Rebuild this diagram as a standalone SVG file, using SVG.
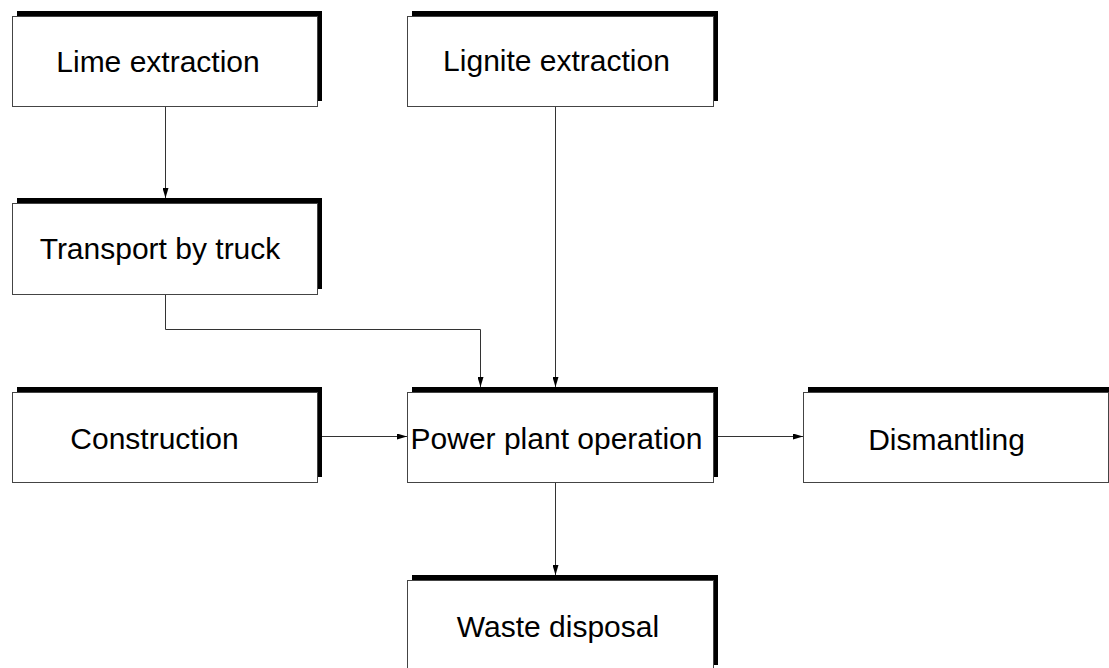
<svg xmlns="http://www.w3.org/2000/svg" width="1109" height="668" viewBox="0 0 1109 668">
  <style>
    .shadow { fill: #000; }
    .box { fill: #fff; stroke: #444; stroke-width: 1; }
    .label { font-family: "Liberation Sans", Arial, sans-serif; font-size: 30px; fill: #000; text-anchor: middle; }
    .edge { fill: none; stroke: #333; stroke-width: 1; }
  </style>
  <defs>
    <marker id="arrow" markerUnits="userSpaceOnUse" markerWidth="10" markerHeight="6" refX="10" refY="3" orient="auto">
      <path d="M0,0 L10,3 L0,6 z" fill="#000"/>
    </marker>
  </defs>
  <rect width="1109" height="668" fill="#fff"/>

  <g id="lime-extraction">
    <rect class="shadow" x="17" y="11" width="305" height="90"/>
    <rect class="box" x="12.5" y="16.5" width="305" height="90"/>
    <text class="label" x="158" y="72">Lime extraction</text>
  </g>

  <g id="lignite-extraction">
    <rect class="shadow" x="412" y="11" width="306" height="90"/>
    <rect class="box" x="407.5" y="16.5" width="306" height="90"/>
    <text class="label" x="556.5" y="71">Lignite extraction</text>
  </g>

  <g id="transport-by-truck">
    <rect class="shadow" x="17" y="198" width="305" height="91"/>
    <rect class="box" x="12.5" y="203.5" width="305" height="91"/>
    <text class="label" x="160" y="259">Transport by truck</text>
  </g>

  <g id="construction">
    <rect class="shadow" x="17" y="387" width="305" height="90"/>
    <rect class="box" x="12.5" y="392.5" width="305" height="90"/>
    <text class="label" x="154.5" y="449">Construction</text>
  </g>

  <g id="power-plant-operation">
    <rect class="shadow" x="412" y="387" width="306" height="90"/>
    <rect class="box" x="407.5" y="392.5" width="306" height="90"/>
    <text class="label" x="556.5" y="449">Power plant operation</text>
  </g>

  <g id="dismantling">
    <rect class="shadow" x="808" y="387" width="305" height="90"/>
    <rect class="box" x="803.5" y="392.5" width="305" height="90"/>
    <text class="label" x="946.5" y="450">Dismantling</text>
  </g>

  <g id="waste-disposal">
    <rect class="shadow" x="412" y="575" width="306" height="90"/>
    <rect class="box" x="407.5" y="580.5" width="306" height="90"/>
    <text class="label" x="558" y="637">Waste disposal</text>
  </g>

  <g id="connectors">
    <path class="edge" d="M165.5 107 V198" marker-end="url(#arrow)"/>
    <path class="edge" d="M165.5 295 V329.5 H480.5 V387" marker-end="url(#arrow)"/>
    <path class="edge" d="M555.5 107 V387" marker-end="url(#arrow)"/>
    <path class="edge" d="M322 436.5 H407" marker-end="url(#arrow)"/>
    <path class="edge" d="M718 436.5 H803" marker-end="url(#arrow)"/>
    <path class="edge" d="M555.5 483 V575" marker-end="url(#arrow)"/>
  </g>
</svg>
